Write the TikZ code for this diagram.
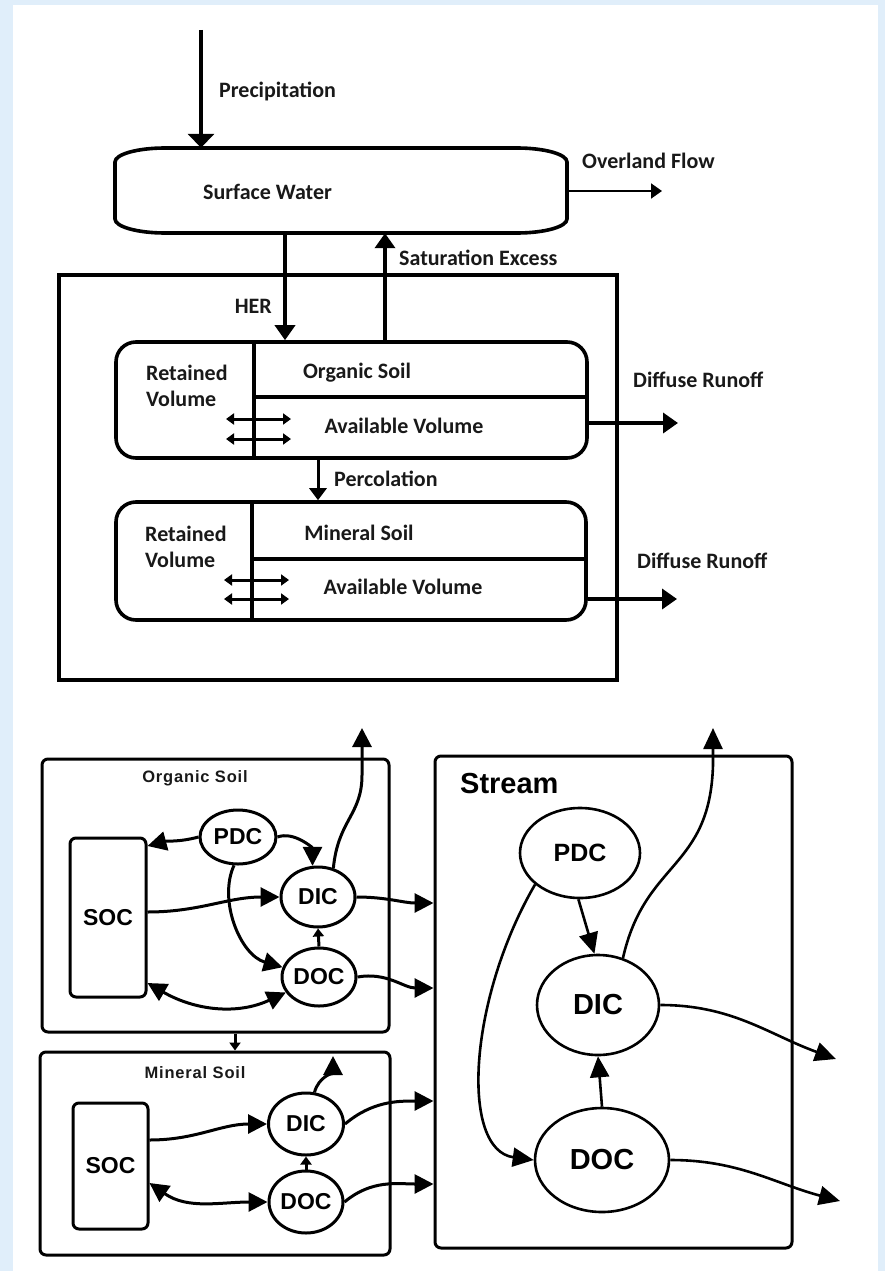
\documentclass[tikz,border=0pt]{standalone}
\usepackage{fontspec}
\newfontfamily\calfont{Carlito}
\newfontfamily\arifont{Liberation Sans}
\usetikzlibrary{arrows.meta,shapes.geometric,calc}
\definecolor{bgblue}{RGB}{224,238,250}
\definecolor{lbl}{RGB}{25,25,25}
\begin{document}
\begin{tikzpicture}[x=1pt,y=-1pt,
  toplbl/.style={font=\calfont\bfseries\fontsize{22}{26}\selectfont, inner sep=0, text=lbl},
  thk/.style={line width=3.6pt},
  tarr/.style={line width=3.6pt, -{Triangle[length=15pt,width=20pt]}},
  parr/.style={line width=3.6pt, -{Triangle[length=14pt,width=26pt]}},
  percarr/.style={line width=3pt, -{Triangle[length=12pt,width=17pt]}},
  thinarr/.style={line width=2pt, -{Triangle[length=11pt,width=15pt]}},
  darr/.style={line width=3pt, {Triangle[length=8pt,width=11pt]}-{Triangle[length=8pt,width=11pt]}},
  soilbox/.style={draw, line width=3.6pt, rounded corners=20pt, inner sep=0},
  gbox/.style={draw, line width=3pt, rounded corners=6pt, inner sep=0},
  ell/.style={ellipse, draw, line width=3pt, inner sep=0},
  sell/.style={ellipse, draw, line width=2.6pt, inner sep=0},
  barr/.style={line width=3pt, -{Triangle[length=19pt,width=19pt]}},
  bdarr/.style={line width=3pt, {Triangle[length=19pt,width=19pt]}-{Triangle[length=19pt,width=19pt]}},
  smarr/.style={line width=3pt, -{Triangle[length=8pt,width=11pt]}},
  sarr/.style={line width=2.6pt, -{Triangle[length=21pt,width=19pt]}},
  smallt/.style={font=\arifont\bfseries\fontsize{16.5}{19}\selectfont\addfontfeatures{LetterSpace=5}, text=lbl, inner sep=0},
  elt/.style={font=\arifont\bfseries\fontsize{23}{26}\selectfont},
  bigt/.style={font=\arifont\bfseries\fontsize{29}{32}\selectfont}
]
\fill[bgblue] (0,0) rectangle (885,1271);
\fill[white] (13,5) rectangle (878,1271);
\useasboundingbox (0,0) rectangle (885,1271);

% ---------------- top: hydrology ----------------
\node[minimum width=452pt, minimum height=85pt, inner sep=0] (sw) at (341,190.5) {};
\draw[thk] (165,148) -- (517,148)
  arc[start angle=90,end angle=0,x radius=50pt,y radius=14pt] -- (567,219)
  arc[start angle=0,end angle=-90,x radius=50pt,y radius=14pt] -- (165,233)
  arc[start angle=270,end angle=180,x radius=50pt,y radius=14pt] -- (115,162)
  arc[start angle=180,end angle=90,x radius=50pt,y radius=14pt] -- cycle;
\node[toplbl, anchor=west] (swt) at (203,192) {Surface Water};

\coordinate (ptop) at (201,30);
\draw[parr] (ptop) -- (ptop |- sw.north);
\node[toplbl, anchor=west] (prect) at (219,91) {Precipitation};

\coordinate (ovend) at (662,191);
\draw[thinarr] (sw.east |- ovend) -- (ovend);
\node[toplbl, anchor=west] (ovt) at (582,161) {Overland Flow};

\node[draw, line width=3.8pt, minimum width=558pt, minimum height=405pt, inner sep=0] (hyd) at (338,477.5) {};

\node[soilbox, minimum width=471pt, minimum height=116pt] (os) at (351.5,400) {};
\node[soilbox, minimum width=470pt, minimum height=118pt] (ms) at (351,561) {};

\coordinate (herx) at (285,0);
\coordinate (satx) at (385,0);
\draw[tarr] (sw.south -| herx) -- (os.north -| herx);
\draw[tarr] (os.north -| satx) -- (sw.south -| satx);
\node[toplbl, anchor=east] (hert) at (272,306) {HER};
\node[toplbl, anchor=west] (satt) at (399,258) {Saturation Excess};

% organic soil (hydrology)
\draw[thk] (os.north -| 254,0) -- (os.south -| 254,0);
\draw[thk] (254,397) -- (os.east |- 0,397);
\node[toplbl, anchor=west, align=left] (rv1) at (146,386) {Retained\\Volume};
\node[toplbl] (ost) at (357,373) {Organic Soil};
\node[toplbl] (av1) at (404,426) {Available Volume};
\draw[darr] (226,419) -- (291,419);
\draw[darr] (226,439) -- (291,439);
\coordinate (dr1) at (678,423);
\draw[tarr] (os.east |- dr1) -- (dr1);
\node[toplbl, anchor=west] (dr1t) at (633,380) {Diffuse Runoff};

\coordinate (percx) at (318,0);
\draw[percarr] (os.south -| percx) -- (ms.north -| percx);
\node[toplbl, anchor=west] (perct) at (334,479) {Percolation};

% mineral soil (hydrology)
\draw[thk] (ms.north -| 252,0) -- (ms.south -| 252,0);
\draw[thk] (252,559) -- (ms.east |- 0,559);
\node[toplbl, anchor=west, align=left] (rv2) at (145,547) {Retained\\Volume};
\node[toplbl] (mst) at (359,533) {Mineral Soil};
\node[toplbl] (av2) at (403,587) {Available Volume};
\draw[darr] (224,580) -- (289,580);
\draw[darr] (224,599) -- (289,599);
\coordinate (dr2) at (677,599);
\draw[tarr] (ms.east |- dr2) -- (dr2);
\node[toplbl, anchor=west] (dr2t) at (637,561) {Diffuse Runoff};

% ---------------- bottom: carbon ----------------
\node[gbox, minimum width=347pt, minimum height=273pt] (ob) at (215.5,895.5) {};
\node[smallt] (obt) at (195,778) {Organic Soil};
\node[gbox, minimum width=76pt, minimum height=159pt] (soc1) at (108,917.5) {};
\node[elt] at (soc1.center) {SOC};
\node[ell, minimum width=76pt, minimum height=54pt, elt] (pdc1) at (238,837) {PDC};
\node[ell, minimum width=74pt, minimum height=60pt, elt] (dic1) at (318,897) {DIC};
\node[ell, minimum width=74pt, minimum height=58pt, elt] (doc1) at (319,977) {DOC};

\node[gbox, minimum width=350pt, minimum height=203pt] (mb) at (215,1153.5) {};
\node[smallt] (mbt) at (195,1073) {Mineral Soil};
\node[gbox, minimum width=75pt, minimum height=126pt] (soc2) at (110.5,1166) {};
\node[elt] at (soc2.center) {SOC};
\node[ell, minimum width=75pt, minimum height=62pt, elt] (dic2) at (306,1124) {DIC};
\node[ell, minimum width=74pt, minimum height=62pt, elt] (doc2) at (306,1202) {DOC};

\node[gbox, minimum width=357pt, minimum height=492pt] (st) at (613.5,1002) {};
\node[bigt, anchor=west, inner sep=0] (stt) at (460,784) {Stream};
\node[sell, minimum width=120pt, minimum height=90pt, font=\arifont\bfseries\fontsize{25}{28}\selectfont] (pdc3) at (580,853) {PDC};
\node[sell, minimum width=122pt, minimum height=100pt, bigt] (dic3) at (598,1005) {DIC};
\node[sell, minimum width=134pt, minimum height=104pt, bigt] (doc3) at (602,1160) {DOC};

% organic soil carbon arrows
\draw[barr] (pdc1.west) to[out=195,in=15] (soc1.east |- 0,846);
\draw[barr] (pdc1.east) to[out=20,in=90] (dic1.100);
\draw[barr] (pdc1.262) .. controls (218,900) and (240,955) .. (doc1.165);
\draw[barr] (soc1.east |- 0,912) to[out=0,in=180] (dic1.west);
\draw[bdarr] (soc1.east |- 0,983) to[out=-30,in=205] (doc1.205);
\draw[smarr] (doc1.north) -- (dic1.south);
\coordinate (up1) at (362,728);
\draw[barr] (dic1.62) .. controls (338,820) and (362,815) .. (362,775) -- (up1);
\draw[barr] (dic1.east) to[out=0,in=180] (st.west |- 0,903);
\draw[barr] (doc1.east) to[out=10,in=180] (st.west |- 0,988);

\coordinate (obx) at (235,0);
\draw[smarr] (ob.south -| obx) -- (mb.north -| obx);

% mineral soil carbon arrows
\draw[barr] (soc2.east |- 0,1140) to[out=0,in=180] (dic2.west);
\draw[bdarr] (soc2.east |- 0,1183) to[out=-35,in=180] (doc2.west);
\draw[smarr] (doc2.north) -- (dic2.south);
\coordinate (up2) at (333,1056);
\draw[barr] (dic2.75) to[out=75,in=-90] (up2);
\draw[barr] (dic2.east) to[out=40,in=180] (st.west |- 0,1101);
\draw[barr] (doc2.east) to[out=40,in=180] (st.west |- 0,1184);

% stream arrows
\draw[sarr] (pdc3.268) -- (dic3.94);
\draw[sarr] (pdc3.215) .. controls (468,1000) and (460,1150) .. (doc3.west);
\draw[sarr] (doc3.north) -- (dic3.south);
\coordinate (up3) at (713,728);
\draw[sarr] (dic3.62) .. controls (645,860) and (710,870) .. (713,765) -- (up3);
\coordinate (out3a) at (836,1059);
\coordinate (out3b) at (840,1201);
\draw[sarr] (dic3.east) to[out=0,in=160] (out3a);
\draw[sarr] (doc3.east) to[out=0,in=165] (out3b);
\end{tikzpicture}
\end{document}
